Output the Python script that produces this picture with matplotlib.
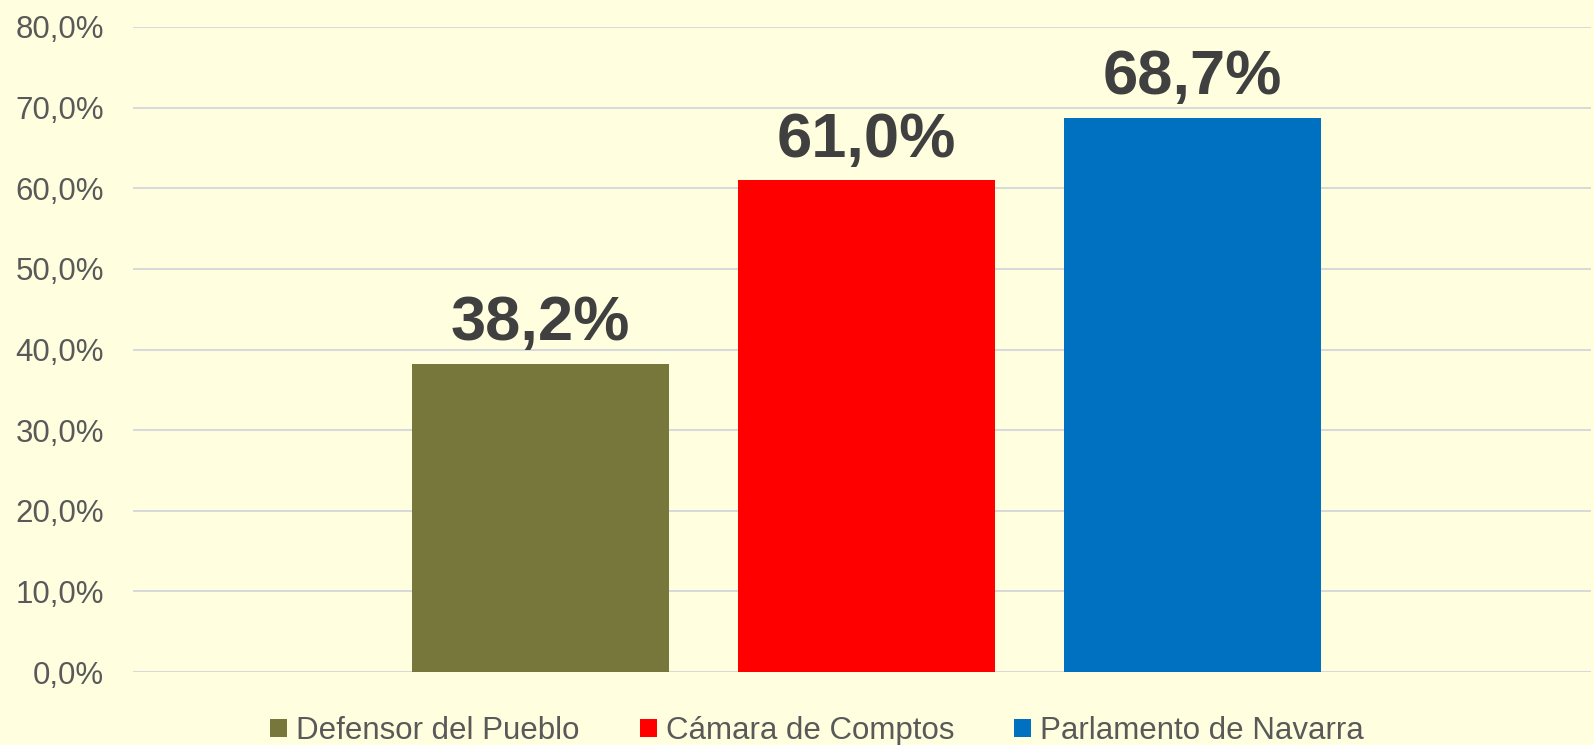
import matplotlib
matplotlib.use("Agg")
import matplotlib.pyplot as plt
from matplotlib.ticker import FuncFormatter, MultipleLocator

# datos
series = ["Defensor del Pueblo", "Cámara de Comptos", "Parlamento de Navarra"]
valores = [0.382, 0.610, 0.687]
colores = ["#77773C", "#FF0000", "#0070C0"]

plt.rcParams["font.family"] = ["Liberation Sans", "DejaVu Sans"]

fondo = "#FFFFE0"
fig = plt.figure(figsize=(15.94, 7.45), dpi=100, facecolor=fondo)
ax = fig.add_axes([133 / 1594, 1 - 672 / 745, (1591 - 133) / 1594, (672 - 27) / 745])
ax.set_facecolor(fondo)

pos = list(range(len(series)))
for i, (nombre, v, c) in enumerate(zip(series, valores, colores)):
    ax.bar(pos[i], v, width=0.788, color=c, label=nombre, zorder=2)
    txt = f"{v * 100:.1f}%".replace(".", ",")
    ax.annotate(txt, (pos[i], v), xytext=(0, 17), textcoords="offset points",
                ha="center", va="baseline", fontsize=45.5, fontweight="bold",
                color="#404040")

ax.set_ylim(0, 0.8)
ax.set_xlim(-1.25, 3.222)
ax.yaxis.set_major_locator(MultipleLocator(0.1))
ax.yaxis.set_major_formatter(FuncFormatter(lambda y, p: f"{y * 100:.1f}%".replace(".", ",")))
ax.grid(axis="y", color="#D9D9D9", linewidth=1.5, zorder=0)
ax.set_xticks([])
ax.tick_params(axis="y", length=0, pad=21, labelsize=22.5, labelcolor="#595959")
for s in ax.spines.values():
    s.set_visible(False)

fig.legend(loc="center", bbox_to_anchor=(817 / 1594, 1 - 731 / 745), ncol=3,
           frameon=False, fontsize=22.5, labelcolor="#595959",
           handlelength=0.54, handleheight=0.54, handletextpad=0.29,
           columnspacing=1.92, borderpad=0, borderaxespad=0)

fig.savefig("out.png", dpi=100, facecolor=fondo)
